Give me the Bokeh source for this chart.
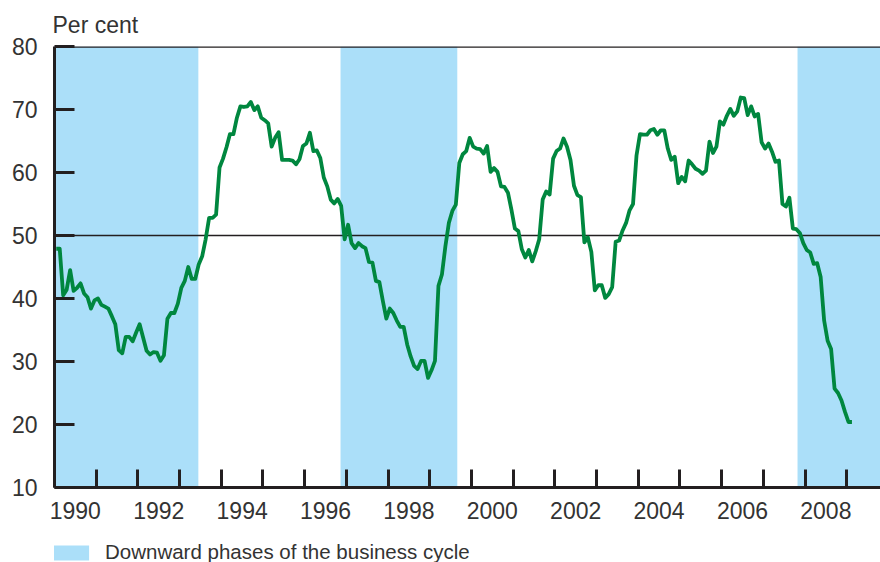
from bokeh.plotting import figure
from bokeh.layouts import column
from bokeh.models import Range1d, FixedTicker, Span, Title, Legend, LegendItem
from bokeh.embed import file_html
from bokeh.resources import INLINE

# ---- data -------------------------------------------------------------
start_year = 1990  # monthly series starting January 1990
values = [
    47.9, 47.9, 40.5, 41.4, 44.5, 41.2, 41.7, 42.4, 40.8, 40.2, 38.4, 39.7,  # 1990
    40.0, 39.0, 38.7, 38.4, 37.2, 35.9, 31.8, 31.3, 33.9, 33.9, 33.2, 34.6,  # 1991
    35.9, 33.8, 31.7, 31.1, 31.5, 31.4, 30.1, 31.0, 36.8, 37.7, 37.7, 39.2,  # 1992
    41.7, 42.8, 45.0, 43.1, 43.1, 45.4, 46.7, 49.4, 52.8, 52.8, 53.3, 60.8,  # 1993
    62.2, 64.0, 66.1, 66.1, 68.7, 70.5, 70.4, 70.5, 71.2, 69.9, 70.5, 68.7,  # 1994
    68.3, 67.8, 64.1, 65.5, 66.4, 62.0, 62.0, 62.0, 61.9, 61.3, 62.1, 64.2,  # 1995
    64.6, 66.3, 63.4, 63.5, 62.3, 59.2, 57.8, 55.7, 55.1, 55.8, 54.7, 49.4,  # 1996
    51.7, 48.8, 48.0, 48.8, 48.3, 48.0, 45.8, 45.7, 42.8, 42.6, 39.6, 36.8,  # 1997
    38.4, 37.7, 36.5, 35.5, 35.5, 32.7, 30.8, 29.3, 28.8, 30.1, 30.1, 27.4,  # 1998
    28.6, 30.1, 42.0, 43.8, 48.3, 52.0, 53.9, 54.9, 61.5, 62.9, 63.4, 65.5,  # 1999
    64.1, 63.8, 63.7, 63.0, 64.2, 60.1, 60.7, 60.1, 57.8, 57.7, 56.8, 54.1,  # 2000
    51.1, 50.7, 47.8, 46.5, 47.7, 45.9, 47.5, 49.4, 55.7, 57.0, 56.5, 62.2,  # 2001
    63.4, 63.8, 65.4, 64.1, 62.0, 57.9, 56.4, 56.1, 48.9, 49.7, 47.4, 41.3,  # 2002
    42.1, 42.1, 40.1, 40.7, 41.8, 49.0, 49.2, 50.8, 52.0, 54.0, 55.0, 62.7,  # 2003
    66.1, 66.0, 66.0, 66.7, 66.9, 66.0, 66.7, 66.7, 63.8, 62.0, 62.5, 58.3,  # 2004
    59.3, 58.6, 61.9, 61.3, 60.6, 60.3, 59.8, 60.3, 64.9, 63.1, 64.1, 68.1,  # 2005
    67.6, 69.0, 70.1, 69.0, 69.7, 71.9, 71.8, 69.1, 70.5, 68.9, 69.3, 64.8,  # 2006
    63.8, 64.6, 63.3, 61.7, 61.9, 55.0, 54.6, 56.0, 51.1, 51.0, 50.4, 48.8,  # 2007
    47.7, 47.3, 45.5, 45.6, 43.4, 36.5, 33.3, 32.0, 25.7, 25.0, 23.8, 22.0,  # 2008
    20.4, 20.4,                                                              # 2009
]
phase_start = [1990.0, 1996.86, 2007.82]
phase_end = [1993.45, 1999.66, 2009.9]
year_labels = ["1990", "1992", "1994", "1996", "1998", "2000", "2002", "2004", "2006", "2008"]
year_ticks = list(range(1990, 2010))
y_ticks = [10, 20, 30, 40, 50, 60, 70, 80]
reference_level = 50
legend_text = "Downward phases of the business cycle"
unit_text = "Per cent"

# ---- derived ----------------------------------------------------------
x = [start_year + (i + 0.5) / 12 for i in range(len(values))]
label_pos = [int(s) + 0.5 for s in year_labels]

FONT = "Liberation Sans"
TXT = "#333333"
AX = "#231f20"
SHADE = "#abdff9"

p = figure(width=880, height=532,
           x_range=Range1d(1990, 2009.81), y_range=Range1d(y_ticks[0], y_ticks[-1]),
           output_backend="svg", toolbar_location=None,
           min_border_left=54, min_border_right=0, min_border_top=46, min_border_bottom=45)
p.xgrid.visible = False
p.ygrid.visible = False
p.outline_line_color = None
p.background_fill_color = "white"
p.border_fill_color = "white"

p.quad(left=phase_start, right=phase_end, bottom=y_ticks[0], top=y_ticks[-1],
       fill_color=SHADE, line_color=None)
p.hspan(y=[reference_level], line_color=AX, line_width=1.3)
p.line(x, values, line_color="#00873f", line_width=3.8, line_join="round")

top_border = Span(location=y_ticks[-1], dimension="width", line_color=AX, line_width=2.5)
p.add_layout(top_border)

# x axis
xa = p.xaxis[0]
xa.ticker = FixedTicker(ticks=label_pos, minor_ticks=year_ticks)
xa.major_label_overrides = {pos: lab for pos, lab in zip(label_pos, year_labels)}
xa.major_tick_line_color = None
xa.minor_tick_in = 18
xa.minor_tick_out = 0
xa.minor_tick_line_width = 3
xa.minor_tick_line_color = AX
xa.axis_line_width = 3
xa.axis_line_color = AX
xa.major_label_text_font = FONT
xa.major_label_text_font_size = "23px"
xa.major_label_text_color = TXT
xa.major_label_standoff = 8

# y axis
ya = p.yaxis[0]
ya.ticker = FixedTicker(ticks=y_ticks)
ya.major_tick_in = 20
ya.major_tick_out = 0
ya.major_tick_line_width = 3
ya.major_tick_line_color = AX
ya.minor_tick_line_color = None
ya.axis_line_width = 3
ya.axis_line_color = AX
ya.major_label_text_font = FONT
ya.major_label_text_font_size = "23px"
ya.major_label_text_color = TXT
ya.major_label_standoff = 17

title = Title(text=unit_text, align="left", text_font=FONT, text_font_size="23px",
              text_font_style="normal", text_color=TXT, standoff=18, offset=-2)
p.add_layout(title, "above")

# ---- legend strip -----------------------------------------------------
q = figure(width=880, height=30, output_backend="svg", toolbar_location=None,
           x_axis_type=None, y_axis_type=None,
           min_border_left=0, min_border_right=0, min_border_top=0, min_border_bottom=0)
q.xgrid.visible = False
q.ygrid.visible = False
q.outline_line_color = None
q.background_fill_color = "white"
q.border_fill_color = "white"
swatch = q.quad(left=phase_start[:1], right=phase_end[:1], bottom=y_ticks[:1], top=y_ticks[-1:],
                fill_color=SHADE, line_color=None, visible=False)

legend = Legend(items=[LegendItem(label=legend_text, renderers=[swatch])],
                location=(-5, -2), orientation="horizontal",
                glyph_width=44, glyph_height=19, label_standoff=12,
                label_text_font=FONT, label_text_font_size="20.5px", label_text_color=TXT,
                padding=0, margin=0, border_line_color=None, background_fill_alpha=0,
                inactive_fill_alpha=0)
q.add_layout(legend)

layout = column(p, q, spacing=0)
open("out.html", "w").write(file_html(layout, INLINE))
